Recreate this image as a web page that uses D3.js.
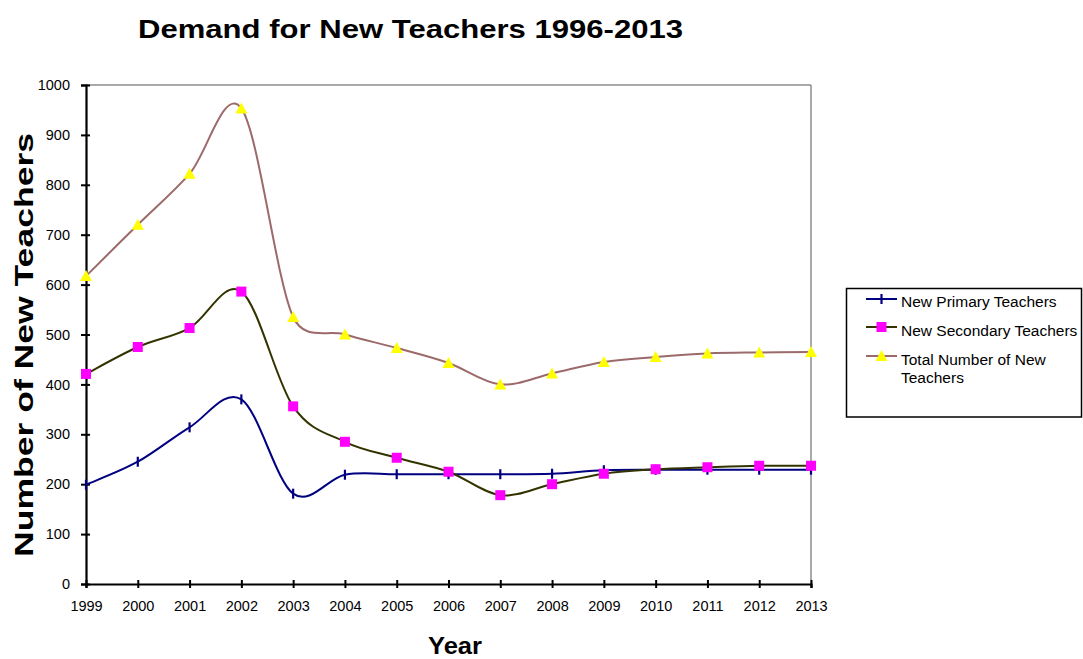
<!DOCTYPE html>
<html>
<head>
<meta charset="utf-8">
<script src="https://cdn.jsdelivr.net/npm/d3@7"></script>
<style>
  html, body { margin: 0; padding: 0; background: #fff; }
  svg { display: block; font-family: "Liberation Sans", Arial, sans-serif; }
</style>
</head>
<body>
<svg id="chart" width="1083" height="659"></svg>
<script>
// Projected demand, one value per year
const years = [1999, 2000, 2001, 2002, 2003, 2004, 2005, 2006, 2007, 2008, 2009, 2010, 2011, 2012, 2013];
const primary   = [199, 245, 314, 370, 181, 219, 220, 220, 220, 221, 228, 229, 229, 229, 229];
const secondary = [421, 475, 513, 586, 356, 285, 253, 225, 178, 200, 221, 230, 234, 237, 237];
const total     = [617, 720, 822, 953, 535, 500, 473, 443, 400, 422, 445, 455, 462, 464, 465];
const yTicks = [0, 100, 200, 300, 400, 500, 600, 700, 800, 900, 1000];

const seriesNames = ["New Primary Teachers", "New Secondary Teachers", "Total Number of New Teachers"];

const svg = d3.select("#chart");
const plotLeft = 86, plotRight = 811, plotTop = 85, plotBottom = 584;

const x = d3.scaleLinear().domain([1999, 2013]).range([plotLeft, plotRight]);
const y = d3.scaleLinear().domain([0, 1000]).range([plotBottom, plotTop]);

// Plot frame: light top / right edges
svg.append("line").attr("x1", plotLeft).attr("x2", plotRight).attr("y1", plotTop).attr("y2", plotTop)
  .attr("stroke", "#8c8c8c").attr("stroke-width", 1.5);
svg.append("line").attr("x1", plotRight).attr("x2", plotRight).attr("y1", plotTop).attr("y2", plotBottom)
  .attr("stroke", "#8c8c8c").attr("stroke-width", 1.5);

// Y axis
const yAxis = svg.append("g").attr("transform", `translate(${plotLeft},0)`)
  .call(d3.axisLeft(y).tickValues(yTicks).tickSize(5).tickPadding(11).tickFormat(d3.format("d")));
yAxis.select(".domain").attr("stroke", "#000").attr("stroke-width", 2.2);
yAxis.selectAll(".tick line").attr("stroke", "#000").attr("stroke-width", 2).attr("x2", -5).attr("x1", 4);
yAxis.selectAll(".tick text").attr("font-size", 14.5).attr("fill", "#000")
  .attr("font-family", "Liberation Sans, Arial, sans-serif");

// X axis
const xAxis = svg.append("g").attr("transform", `translate(0,${plotBottom})`)
  .call(d3.axisBottom(x).tickValues(years).tickSize(4).tickPadding(13).tickFormat(d3.format("d")));
xAxis.select(".domain").attr("stroke", "#000").attr("stroke-width", 2.2);
xAxis.selectAll(".tick line").attr("stroke", "#000").attr("stroke-width", 2).attr("y1", -4).attr("y2", 4);
xAxis.selectAll(".tick text").attr("font-size", 14.5).attr("fill", "#000")
  .attr("font-family", "Liberation Sans, Arial, sans-serif");

// Spreadsheet-style smoothed line: cubic Bezier segments whose control
// points follow the neighbouring chord, capped at half the segment length.
function smoothPath(values) {
  const pts = values.map((v, i) => [x(years[i]), y(v)]);
  const dist = (a, b) => Math.hypot(b[0] - a[0], b[1] - a[1]);
  const p = d3.path();
  p.moveTo(pts[0][0], pts[0][1]);
  for (let i = 0; i < pts.length - 1; i++) {
    const p0 = pts[Math.max(0, i - 1)], p1 = pts[i], p2 = pts[i + 1], p3 = pts[Math.min(pts.length - 1, i + 2)];
    const d12 = dist(p1, p2), d02 = dist(p0, p2), d13 = dist(p1, p3);
    const f0 = d02 / 6 < d12 / 2 ? 1 / 6 : d12 / (2 * d02);
    const f3 = d13 / 6 < d12 / 2 ? 1 / 6 : d12 / (2 * d13);
    const b1 = [p1[0] + (p2[0] - p0[0]) * f0, p1[1] + (p2[1] - p0[1]) * f0];
    const b2 = [p2[0] - (p3[0] - p1[0]) * f3, p2[1] - (p3[1] - p1[1]) * f3];
    p.bezierCurveTo(b1[0], b1[1], b2[0], b2[1], p2[0], p2[1]);
  }
  return p.toString();
}

const series = [
  { name: seriesNames[0], values: primary,   stroke: "#000080", marker: "tick" },
  { name: seriesNames[1], values: secondary, stroke: "#333300", marker: "square" },
  { name: seriesNames[2], values: total,     stroke: "#9c6a6a", marker: "triangle" }
];

function drawMarker(g, kind, cx, cy) {
  if (kind === "tick") {
    g.append("line").attr("x1", cx).attr("x2", cx).attr("y1", cy - 5).attr("y2", cy + 5)
      .attr("stroke", "#000080").attr("stroke-width", 2.2);
  } else if (kind === "square") {
    g.append("rect").attr("x", cx - 5).attr("y", cy - 5).attr("width", 10).attr("height", 10)
      .attr("fill", "#ff00ff");
  } else {
    g.append("path").attr("d", `M${cx},${cy - 6}L${cx + 6},${cy + 5}L${cx - 6},${cy + 5}Z`)
      .attr("fill", "#ffff00");
  }
}

series.forEach(s => {
  svg.append("path").attr("d", smoothPath(s.values))
    .attr("fill", "none").attr("stroke", s.stroke).attr("stroke-width", 2);
});
series.forEach(s => {
  const g = svg.append("g");
  s.values.forEach((v, i) => drawMarker(g, s.marker, x(years[i]), y(v)));
});

// Titles
svg.append("text").attr("x", 138).attr("y", 38)
  .attr("font-size", 26).attr("font-weight", "bold").attr("textLength", 545).attr("lengthAdjust", "spacingAndGlyphs")
  .text("Demand for New Teachers 1996-2013");
svg.append("text").attr("x", 428).attr("y", 654)
  .attr("font-size", 23).attr("font-weight", "bold").attr("textLength", 54).attr("lengthAdjust", "spacingAndGlyphs")
  .text("Year");
svg.append("text").attr("transform", "translate(33,557) rotate(-90)")
  .attr("font-size", 25).attr("font-weight", "bold").attr("textLength", 424).attr("lengthAdjust", "spacingAndGlyphs")
  .text("Number of New Teachers");

// Legend
const lg = svg.append("g");
lg.append("rect").attr("x", 846.5).attr("y", 288.5).attr("width", 235).attr("height", 128.5)
  .attr("fill", "#fff").attr("stroke", "#000").attr("stroke-width", 1.5);
const legendRows = [
  { s: series[0], ly: 299, lines: ["New Primary Teachers"], ty: 307 },
  { s: series[1], ly: 327, lines: ["New Secondary Teachers"], ty: 336 },
  { s: series[2], ly: 356, lines: ["Total Number of New", "Teachers"], ty: 365 }
];
legendRows.forEach(r => {
  lg.append("line").attr("x1", 866).attr("x2", 897).attr("y1", r.ly).attr("y2", r.ly)
    .attr("stroke", r.s.stroke).attr("stroke-width", 2);
  drawMarker(lg, r.s.marker, 881.5, r.ly);
  r.lines.forEach((t, k) => {
    lg.append("text").attr("x", 901).attr("y", r.ty + k * 18).attr("font-size", 15.5).text(t);
  });
});
</script>
</body>
</html>
